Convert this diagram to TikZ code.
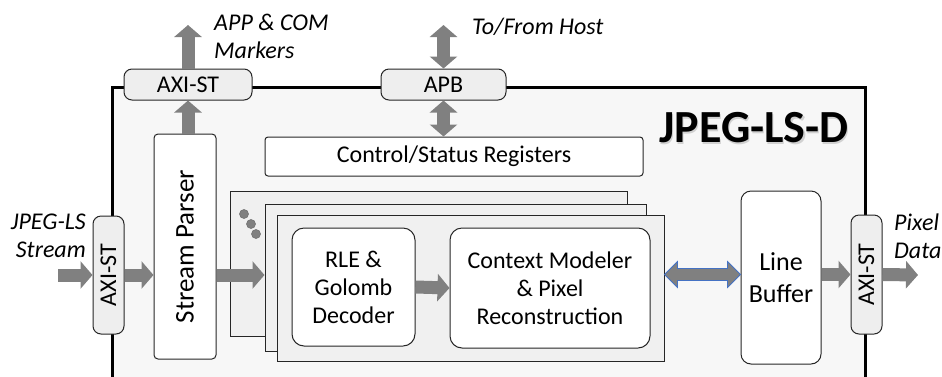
\documentclass[tikz,border=0pt]{standalone}
\usepackage{fontspec}
\setmainfont{Carlito}
\usepackage{graphicx}
\usetikzlibrary{arrows.meta, calc, positioning}
\definecolor{arrowgray}{RGB}{128,128,128}
\definecolor{boxgray}{RGB}{238,238,238}
\definecolor{panelgray}{RGB}{240,240,240}
\definecolor{edgeblue}{RGB}{68,114,196}

\begin{document}
\begin{tikzpicture}[x=1pt,y=-1pt,>={Triangle[width=27pt,length=12pt]},
	font=\fontsize{24}{28}\selectfont,
	blk/.style={draw=black!85, line width=1pt, fill=white, rounded corners=#1, inner sep=0pt, align=center},
	blk/.default=4pt,
	port/.style={draw=black!85, line width=1pt, fill=boxgray, rounded corners=8pt, inner sep=0pt},
	panel/.style={draw=black!85, line width=1pt, fill=panelgray, inner sep=0pt},
	flow/.style={->, arrowgray, line width=13pt},
	lbl/.style={font=\fontsize{24}{28}\selectfont\itshape, inner sep=0pt}]
	\tikzset{dot/.style={circle, fill=arrowgray, draw=black!55, line width=0.6pt, minimum size=9pt, inner sep=0pt}}
	\useasboundingbox (0,0) rectangle (942,376);
	\clip (0,0) rectangle (942,376);

	% chip outline
	\draw[line width=3pt, fill=black!3] (112,87) rectangle (865,400);
	\node[font=\fontsize{46}{46}\selectfont\bfseries, text=black!18] (titleshade) at (755.2,129.2) {JPEG-LS-D};
	\node[font=\fontsize{46}{46}\selectfont\bfseries] (title) at (754,128) {JPEG-LS-D};

	% ports
	\node[port, minimum width=128pt, minimum height=31pt] (axt) at (188,84.5) {AXI-ST};
	\node[port, minimum width=125pt, minimum height=31pt] (apb) at (443.5,84.5) {APB};
	\node[port, minimum width=31pt, minimum height=118pt] (axl) at (108.5,275) {\rotatebox{90}{AXI-ST}};
	\node[port, minimum width=31pt, minimum height=119pt] (axr) at (866.5,274.5) {\rotatebox{90}{AXI-ST}};

	% blocks
	\node[blk=3pt, minimum width=378pt, minimum height=39pt] (ctrl) at (454,156.5) {Control/Status Registers};
	\node[blk, minimum width=62pt, minimum height=225pt, font=\fontsize{27}{32}\selectfont] (sp) at (185,246.5) {\rotatebox{90}{Stream Parser}};
	\node[panel, minimum width=397pt, minimum height=145pt] (core1) at (428.5,263.5) {};
	\node[panel, minimum width=381pt, minimum height=147pt] (core2) at (455.5,277.5) {};
	\node[panel, minimum width=387pt, minimum height=146pt] (core3) at (470.5,288) {};
	\foreach \x/\y [count=\i] in {244/214, 251/224, 256/234}
		\node[dot] (dot\i) at (\x,\y) {};
	\node[blk=12pt, minimum width=123pt, minimum height=118pt] (rle) at (353.5,287) {RLE \&\\Golomb\\Decoder};
	\node[blk=12pt, minimum width=200pt, minimum height=120pt] (ctx) at (550,288) {Context Modeler\\\& Pixel\\Reconstruction};
	\node[blk=10pt, minimum width=80pt, minimum height=173pt, font=\fontsize{26}{32}\selectfont] (lb) at (781,277.5) {Line\\Buffer};

	% labels
	\node[lbl, align=left, anchor=west] (markers) at (214,36) {APP \& COM\\Markers};
	\node[lbl, anchor=west] (hostlbl) at (472,27) {To/From Host};
	\node[lbl, align=right, anchor=east] (instream) at (86,236) {JPEG-LS\\Stream};
	\node[lbl, align=left, anchor=west] (outdata) at (894,236) {Pixel\\Data};

	\coordinate (src) at (58,275);
	\coordinate (dst) at (918,275);
	\coordinate (mkr) at (188,25);
	\coordinate (hostbus) at (443.5,25);
	\coordinate (cl) at (core3.east |- axr.west);
	\coordinate (cr) at (lb.west |- axr.west);

	\path[flow]
		(src)
			edge (axl.west)
		(axl.east)
			edge (axl.east -| sp.west)
		(sp.east |- axl.east)
			edge (core2.west |- axl.east)
		(rle.east)
			edge (ctx.west)
		(lb.east |- axr.west)
			edge (axr.west)
		(axr.east)
			edge (dst)
		(axt.south |- sp.north)
			edge (axt.south)
		(axt.north)
			edge (mkr);
	\path[flow, <->]
		(hostbus)
			edge (apb.north)
		(apb.south)
			edge (apb.south |- ctrl.north);
	% two-way link to the line buffer
	\draw[edgeblue, fill=arrowgray, line width=0.8pt, line join=miter]
		(cl) -- ++(13,-13) -- ++(0,7) -- ($(cr)+(-13,-6)$) -- ++(0,-7) -- (cr)
		-- ++(-13,13) -- ++(0,-7) -- ($(cl)+(13,6)$) -- ++(0,7) -- cycle;
\end{tikzpicture}
\end{document}
